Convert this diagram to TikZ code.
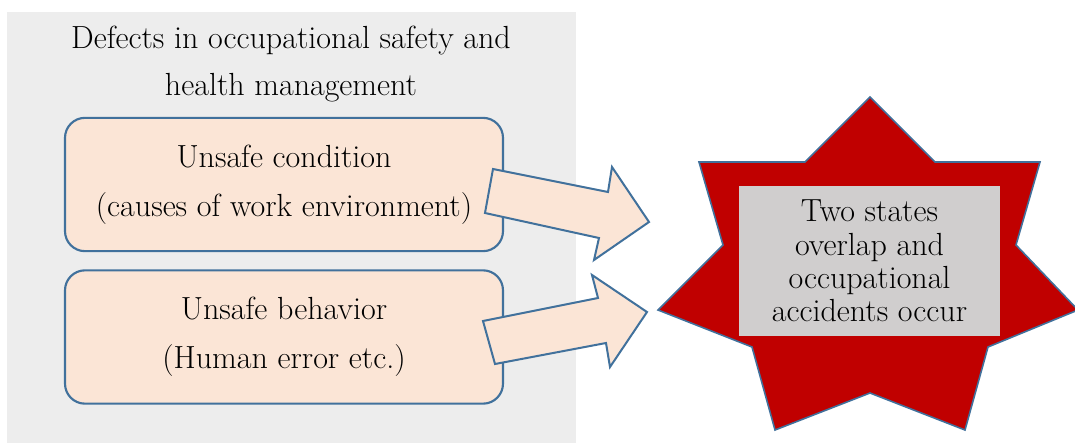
\documentclass[tikz,border=0pt]{standalone}
\usepackage{tikz}
\definecolor{bgc}{HTML}{EDEDED}
\definecolor{boxfill}{HTML}{FBE5D6}
\definecolor{edgeblue}{HTML}{41719C}
\definecolor{starred}{HTML}{C00000}
\definecolor{resgrey}{HTML}{D0CECE}
\tikzset{
  causebox/.style={draw=edgeblue, line width=1.6pt, fill=boxfill, rounded corners=15pt,
    minimum width=328.5pt, minimum height=100pt, align=center,
    font=\fontsize{24}{36.5}\selectfont, inner sep=0pt},
  bigarrow/.style={draw=edgeblue, line width=1.5pt, fill=boxfill, line join=miter},
  starshape/.style={draw=edgeblue, line width=1.2pt, fill=starred, line join=miter},
  resbox/.style={fill=resgrey, minimum width=195.75pt, minimum height=112.5pt, align=center,
    font=\fontsize{24}{25}\selectfont, inner sep=0pt},
  titletext/.style={align=center, font=\fontsize{24}{35.5}\selectfont, inner sep=0pt}
}
\begin{document}
\begin{tikzpicture}[x=0.75pt, y=-0.75pt]
\useasboundingbox (0,0) rectangle (1075,443);
\fill[white] (0,0) rectangle (1075,443);
% grey background panel
\fill[bgc] (7,12) rectangle (576,443);
\node[titletext] (title) at (291,64) {Defects in occupational safety and\\health management};
\node[causebox] (cond) at (284,184.5) {Unsafe condition\\(causes of work environment)};
\node[causebox] (behav) at (284,337) {Unsafe behavior\\(Human error etc.)};
% star
\draw[starshape] (870,97) -- (935,162) -- (1040,162) -- (1016,245) -- (1078,310) -- (988,347)
  -- (965,430) -- (870,393) -- (775,430) -- (752,347) -- (658,310) -- (723,245)
  -- (699,162) -- (805,162) -- cycle;
\node[resbox] (result) at (869.5,261) {Two states\\overlap and\\occupational\\accidents occur};
% arrows
\draw[bigarrow] (493,169) -- (608,192) -- (612,167) -- (649,222) -- (594,260) -- (599,238) -- (485,213) -- cycle;
\draw[bigarrow] (483,321) -- (598,298) -- (592,275) -- (647,312) -- (610,367) -- (606,343) -- (495,364) -- cycle;
\end{tikzpicture}
\end{document}
